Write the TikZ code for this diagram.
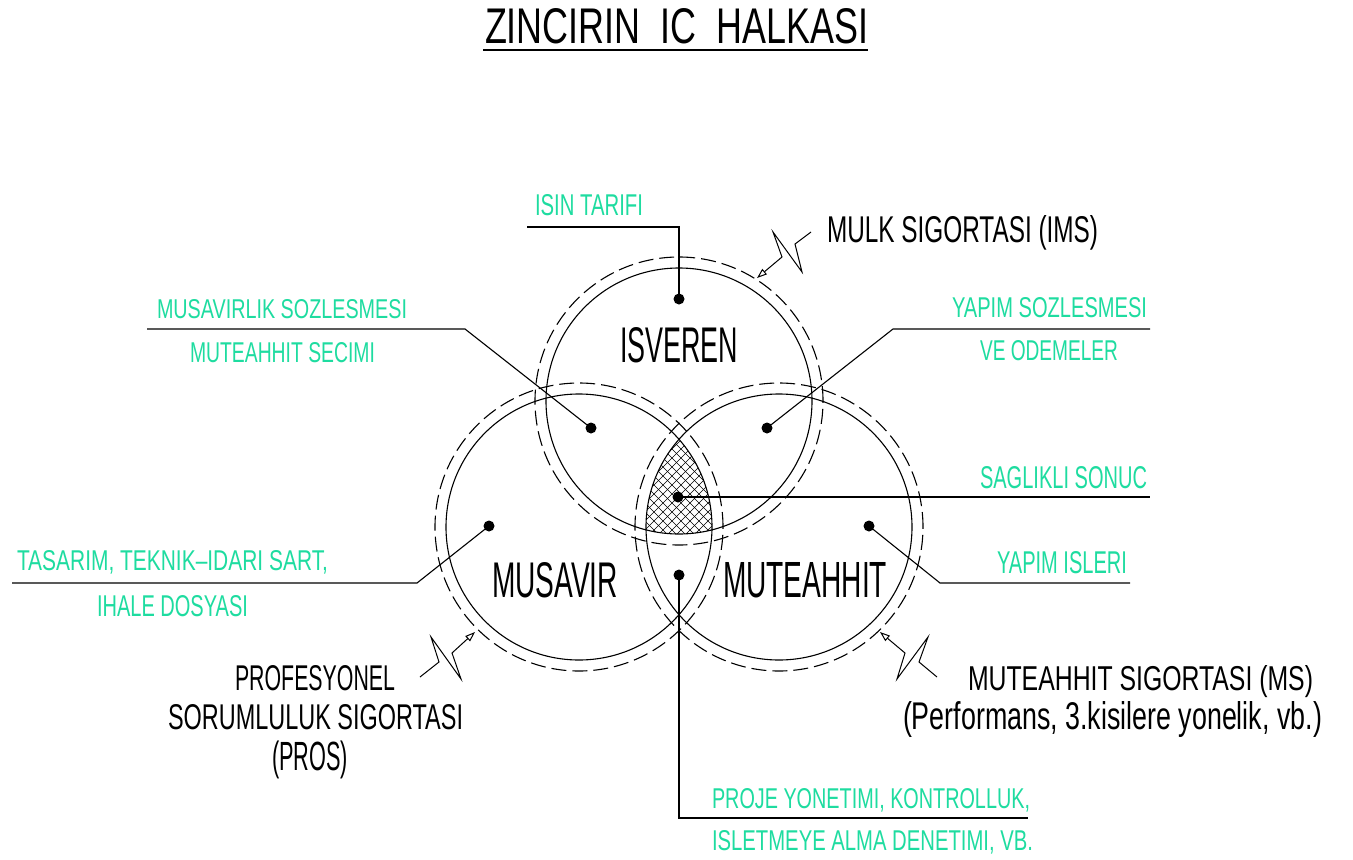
\documentclass[tikz,border=0pt]{standalone}
\usepackage{fontspec}
\setmainfont{Liberation Sans}
\usepackage{graphicx}
\usetikzlibrary{arrows.meta}
\definecolor{cadgreen}{RGB}{30,220,160}
\newcommand{\fitT}[3]{\resizebox{#1pt}{#2pt}{#3}}
\newcommand{\fitS}[3]{\resizebox*{#1pt}{#2pt}{#3}}
\begin{document}
\begin{tikzpicture}[x=1pt,y=-1pt,line width=1.1pt,
  lbl/.style={anchor=base west,inner sep=0pt,outer sep=0pt},
  grn/.style={lbl,text=cadgreen},
  dot/.style={circle,fill=black,inner sep=0pt,minimum size=11pt},
  dsh/.style={dash pattern=on 15pt off 6pt},
  brk/.style={-{Triangle[open,length=10pt,width=7pt]},line width=1pt},
  hatchline/.style={line width=0.65pt}]
\fill[white] (0,0) rectangle (1353,860);
\useasboundingbox (0,0) rectangle (1353,860);

% title
\node[lbl] (title) at (485,43) {\fitT{383}{35}{ZINCIRIN\ \ IC\ \ HALKASI}};
\coordinate (ulA) at (483,50);
\coordinate (ulB) at (868,50);
\draw[line width=1.3pt] (ulA) -- (ulB);

% circle centres
\coordinate (cT) at (679,401);
\coordinate (cL) at (579,527);
\coordinate (cR) at (779,527);

% hatch of the common area
\begin{scope}
  \clip (cT) circle (133pt);
  \clip (cL) circle (133pt);
  \clip (cR) circle (133pt);
  \foreach \k in {0,9,...,180} {
    \draw[hatchline] ({536+\k},540) -- ++(110,-110);
    \draw[hatchline] ({536+\k},430) -- ++(110,110);
  }
\end{scope}

% circles
\draw (cT) circle (133pt);
\draw (cL) circle (133pt);
\draw (cR) circle (133pt);
\draw[dsh] (cT) circle (144pt);
\draw[dsh] (cL) circle (144pt);
\draw[dsh] (cR) circle (144pt);

% big labels
\node[lbl] (isveren) at (620,362) {\fitT{118}{35}{ISVEREN}};
\node[lbl] (musavir) at (492,597) {\fitT{126}{35}{MUSAVIR}};
\node[lbl] (muteahhit) at (723,597) {\fitT{164}{35}{MUTEAHHIT}};

% dots
\node[dot] (dT) at (679,299) {};
\node[dot] (dTL) at (591,428) {};
\node[dot] (dTR) at (767,428) {};
\node[dot] (dC) at (678,497) {};
\node[dot] (dL) at (489,526) {};
\node[dot] (dR) at (869,526) {};
\node[dot] (dB) at (679,575) {};

% leader bends
\coordinate (isinB) at (679,227);
\coordinate (isinA) at (527,227);
\coordinate (musB) at (465,329);
\coordinate (musA) at (147,329);
\coordinate (yapB) at (893,329);
\coordinate (yapA) at (1150,329);
\coordinate (sagA) at (1150,497);
\coordinate (islB) at (940,583);
\coordinate (islA) at (1130,583);
\coordinate (tasB) at (417,583);
\coordinate (tasA) at (12,583);
\coordinate (proB) at (679,818);
\coordinate (proA) at (1028,818);

\draw (dT.center) -- (isinB) -- (isinA);
\draw (dTL.center) -- (musB) -- (musA);
\draw (dTR.center) -- (yapB) -- (yapA);
\draw (dC.center) -- (sagA);
\draw (dR.center) -- (islB) -- (islA);
\draw (dL.center) -- (tasB) -- (tasA);
\draw (dB.center) -- (proB) -- (proA);

% green labels
\node[grn] (isin) at (535,215) {\fitT{108}{21}{ISIN\ TARIFI}};
\node[grn] (mus1) at (157,318) {\fitT{250}{19}{MUSAVIRLIK\ SOZLESMESI}};
\node[grn] (mus2) at (190,362) {\fitT{185}{20}{MUTEAHHIT\ SECIMI}};
\node[grn] (yap1) at (952,317) {\fitT{195}{20}{YAPIM\ SOZLESMESI}};
\node[grn] (yap2) at (980,360) {\fitT{138}{20}{VE\ ODEMELER}};
\node[grn] (sag) at (980,488) {\fitT{167}{22}{SAGLIKLI\ SONUC}};
\node[grn] (isl) at (997,573) {\fitT{130}{22}{YAPIM\ ISLERI}};
\node[grn] (tas1) at (17,570) {\fitT{311}{20}{TASARIM,\ TEKNIK--IDARI\ SART,}};
\node[grn] (tas2) at (97,616) {\fitT{151}{21}{IHALE\ DOSYASI}};
\node[grn] (pro1) at (712,808) {\fitT{318}{20}{PROJE\ YONETIMI,\ KONTROLLUK,}};
\node[grn] (pro2) at (712,850) {\fitT{321}{20}{ISLETMEYE\ ALMA\ DENETIMI,\ VB.}};

% insurance labels
\node[lbl] (mulk) at (827,242) {\fitT{271}{27}{MULK\ SIGORTASI\ (IMS)}};
\node[lbl] (pros1) at (235,690) {\fitT{160}{25}{PROFESYONEL}};
\node[lbl] (pros2) at (168,729) {\fitT{295}{25}{SORUMLULUK\ SIGORTASI}};
\node[lbl] (pros3) at (272,770) {\fitS{76}{38}{(PROS)}};
\node[lbl] (ms1) at (968,690) {\fitT{345}{25}{MUTEAHHIT\ SIGORTASI\ (MS)}};
\node[lbl] (ms2) at (903,729) {\fitS{419}{36}{(Performans,\ 3.kisilere\ yonelik,\ vb.)}};

% break leaders
\coordinate (mA) at (811,232);
\coordinate (mB) at (795,244);
\coordinate (mC) at (802,272);
\coordinate (mD) at (773,232);
\coordinate (mE) at (782,257);
\coordinate (mT) at (757,278);
\draw[brk] (mA) -- (mB) -- (mC) -- (mD) -- (mE) -- (mT);

\coordinate (pA) at (420,677);
\coordinate (pB) at (439,662);
\coordinate (pC) at (431,637);
\coordinate (pD) at (461,679);
\coordinate (pE) at (452,653);
\coordinate (pT) at (475,632);
\draw[brk] (pA) -- (pB) -- (pC) -- (pD) -- (pE) -- (pT);

\coordinate (sA) at (937,677);
\coordinate (sB) at (919,662);
\coordinate (sC) at (928,637);
\coordinate (sD) at (897,679);
\coordinate (sE) at (905,653);
\coordinate (sT) at (880,632);
\draw[brk] (sA) -- (sB) -- (sC) -- (sD) -- (sE) -- (sT);
\end{tikzpicture}
\end{document}
